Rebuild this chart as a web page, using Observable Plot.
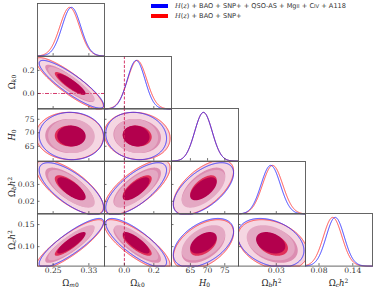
<!DOCTYPE html>
<html><head><meta charset="utf-8">
<script src="https://cdn.jsdelivr.net/npm/d3@7"></script>
<script src="https://cdn.jsdelivr.net/npm/@observablehq/plot@0.6"></script>
<style>
body{margin:0;background:#fff}
#chart{position:relative;width:374px;height:291px;overflow:hidden;background:#fff}
#chart svg{position:absolute;overflow:visible;background:transparent}
.lab{position:absolute;font-family:"DejaVu Serif",serif;font-size:8.5px;white-space:nowrap;line-height:1;color:#222}
.lab sub{font-size:0.7em;vertical-align:baseline;position:relative;top:0.25em}
.lab sup{font-size:0.7em;vertical-align:baseline;position:relative;top:-0.45em}
.leg{position:absolute;font-family:"DejaVu Sans",sans-serif;font-size:6.6px;white-space:nowrap;color:#333;line-height:1}
.sw{position:absolute;width:17px;height:4px}
</style></head><body><div id="chart"></div><script>
// ---- data ----
const paramLabels = ['Ω<sub><i>m</i>0</sub>', 'Ω<sub><i>k</i>0</sub>', '<i>H</i><sub>0</sub>', 'Ω<sub><i>b</i></sub><i>h</i><sup>2</sup>', 'Ω<sub><i>c</i></sub><i>h</i><sup>2</sup>'];
const domains = [[0.215, 0.365], [-0.135, 0.32], [59.5, 79], [0.0124, 0.0436], [0.056, 0.175]];
const xTicks = [[0.25, 0.33], [0.0, 0.2], [65, 70, 75], [0.03], [0.08, 0.14]];
const yTicks = [[], [0.0, 0.2], [65, 70, 75], [0.02, 0.03], [0.10, 0.15]];
const tickFormats = [".2f", ".1f", "d", ".2f", ".2f"];
const meanBlue = [0.291, 0.080, 68.8, 0.0274, 0.1088];
const sdBlue   = [0.021, 0.060, 2.55, 0.0045, 0.0160];
const meanRed  = [0.287, 0.087, 68.8, 0.0283, 0.1043];
const sdRed    = [0.022, 0.065, 2.55, 0.0047, 0.0165];
const pairRows = [1, 2, 2, 3, 3, 3, 4, 4, 4, 4];
const pairCols = [0, 0, 1, 0, 1, 2, 0, 1, 2, 3];
const corrBlue = [-0.88, -0.03, -0.10, -0.72, 0.72, 0.60, 0.86, -0.80, 0.48, -0.32];
const corrRed  = [-0.88, -0.03, -0.10, -0.72, 0.72, 0.60, 0.86, -0.80, 0.48, -0.32];
const levels = [11.83, 6.18, 2.30]; // chi2 (2 dof) for 3σ, 2σ, 1σ
const refOk0 = [0];
const legendLabels = ['<i style="font-family:DejaVu Serif">H</i>(<i style="font-family:DejaVu Serif">z</i>) + BAO + SNP+ + QSO-AS + Mg<span style="font-size:0.8em">II</span> + C<span style="font-size:0.8em">IV</span> + A118',
                      '<i style="font-family:DejaVu Serif">H</i>(<i style="font-family:DejaVu Serif">z</i>) + BAO + SNP+'];

// ---- styles ----
const BLUE = "#2828ff", RED = "#ff3838";
const fillRed = ["#f4d3df", "#dc8db1", "#e03059"];
const fillBlue = ["#f5d6e2", "#e4a8c3", "#b3004d"];
const REF = "#d0245a";
const L = 37, T = 3, PW = 67, PH = 52.6;
const chart = document.getElementById("chart");

function corrOf(arr, i, j) {
  for (let k = 0; k < pairRows.length; k++) if (pairRows[k] === i && pairCols[k] === j) return arr[k];
  return 0;
}
function d2(x, y, mx, my, sx, sy, r) {
  const a = (x - mx) / sx, b = (y - my) / sy;
  return (a * a - 2 * r * a * b + b * b) / (1 - r * r);
}

function panel(i, j) {
  const diag = i === j;
  const marks = [];
  const tickStyle = {stroke: "#333", strokeWidth: 0.7};
  const xd = domains[j];
  if (diag) {
    const xs = d3.range(0, 301).map(k => xd[0] + (xd[1] - xd[0]) * k / 300);
    marks.push(Plot.line(xs, {x: d => d, y: d => Math.exp(-0.5 * ((d - meanRed[j]) / sdRed[j]) ** 2), stroke: RED, strokeWidth: 0.9}));
    marks.push(Plot.line(xs, {x: d => d, y: d => Math.exp(-0.5 * ((d - meanBlue[j]) / sdBlue[j]) ** 2), stroke: BLUE, strokeWidth: 0.9}));
  } else {
    const yd = domains[i];
    const ext = {x1: xd[0], x2: xd[1], y1: yd[0], y2: yd[1], width: 160, height: 130};
    const rB = corrOf(corrBlue, i, j), rR = corrOf(corrRed, i, j);
    const vR = (x, y) => -d2(x, y, meanRed[j], meanRed[i], sdRed[j], sdRed[i], rR);
    const vB = (x, y) => -d2(x, y, meanBlue[j], meanBlue[i], sdBlue[j], sdBlue[i], rB);
    levels.forEach((lv, k) => {
      marks.push(Plot.contour({value: vR, ...ext, thresholds: [-lv], fill: fillRed[k], stroke: "none"}));
      marks.push(Plot.contour({value: vB, ...ext, thresholds: [-lv], fill: fillBlue[k], stroke: "none"}));
    });
    marks.push(Plot.contour({value: vR, ...ext, thresholds: [-levels[0]], fill: "none", stroke: RED, strokeWidth: 0.9}));
    marks.push(Plot.contour({value: vB, ...ext, thresholds: [-levels[0]], fill: "none", stroke: BLUE, strokeWidth: 0.9}));
  }
  // reference line at Ωk0 = 0
  if (j === 1) marks.push(Plot.ruleX(refOk0, {x: d => d, stroke: REF, strokeWidth: 0.9, strokeDasharray: "3,1.5"}));
  if (i === 1 && j === 0) marks.push(Plot.ruleY(refOk0, {y: d => d, stroke: REF, strokeWidth: 0.9, strokeDasharray: "4,1.5,1,1.5"}));
  // inward ticks
  marks.push(Plot.tickX(xTicks[j], {x: d => d, insetTop: PH - 2.5, ...tickStyle}));
  if (!diag) marks.push(Plot.tickY(yTicks[i], {y: d => d, insetRight: PW - 2.5, ...tickStyle}));
  // tick labels
  if (i === 4) marks.push(Plot.axisX(xTicks[j], {anchor: "bottom", tickSize: 0, tickPadding: 1.5, tickFormat: tickFormats[j], fontSize: 7.6, fontFamily: "DejaVu Serif", fill: "#333", label: null}));
  if (j === 0 && !diag) marks.push(Plot.axisY(yTicks[i], {anchor: "left", tickSize: 0, tickPadding: 3, tickFormat: tickFormats[i], fontSize: 7.6, fontFamily: "DejaVu Serif", fill: "#333", label: null}));
  marks.push(Plot.frame({stroke: "#555", strokeWidth: 0.9}));
  const svg = Plot.plot({
    width: PW, height: PH, margin: 0,
    x: {domain: domains[j], axis: null},
    y: {domain: diag ? [0, 1.08] : domains[i], axis: null},
    style: {overflow: "visible", background: "transparent"},
    marks
  });
  svg.style.left = (L + j * PW) + "px";
  svg.style.top = (T + i * PH) + "px";
  chart.appendChild(svg);
}

for (let i = 0; i < 5; i++) for (let j = 0; j <= i; j++) panel(i, j);

// axis titles
paramLabels.forEach((lab, j) => {
  const d = document.createElement("div");
  d.className = "lab";
  d.innerHTML = lab;
  d.style.left = (L + j * PW + PW / 2) + "px";
  d.style.top = "283px";
  d.style.transform = "translate(-50%,-50%)";
  chart.appendChild(d);
  if (j > 0) {
    const e = document.createElement("div");
    e.className = "lab";
    e.innerHTML = lab;
    e.style.left = "12px";
    e.style.top = (T + j * PH + PH / 2) + "px";
    e.style.transform = "translate(-50%,-50%) rotate(-90deg)";
    chart.appendChild(e);
  }
});

// legend
[BLUE, RED].forEach((c, k) => {
  const s = document.createElement("div");
  s.className = "sw";
  s.style.background = k === 0 ? "#0000ff" : "#ff0000";
  s.style.left = "151px";
  s.style.top = (4.3 + k * 9.7) + "px";
  chart.appendChild(s);
  const t = document.createElement("div");
  t.className = "leg";
  t.innerHTML = legendLabels[k];
  t.style.left = "175px";
  t.style.top = (6.3 + k * 9.7) + "px";
  t.style.transform = "translateY(-50%)";
  chart.appendChild(t);
});
</script></body></html>
